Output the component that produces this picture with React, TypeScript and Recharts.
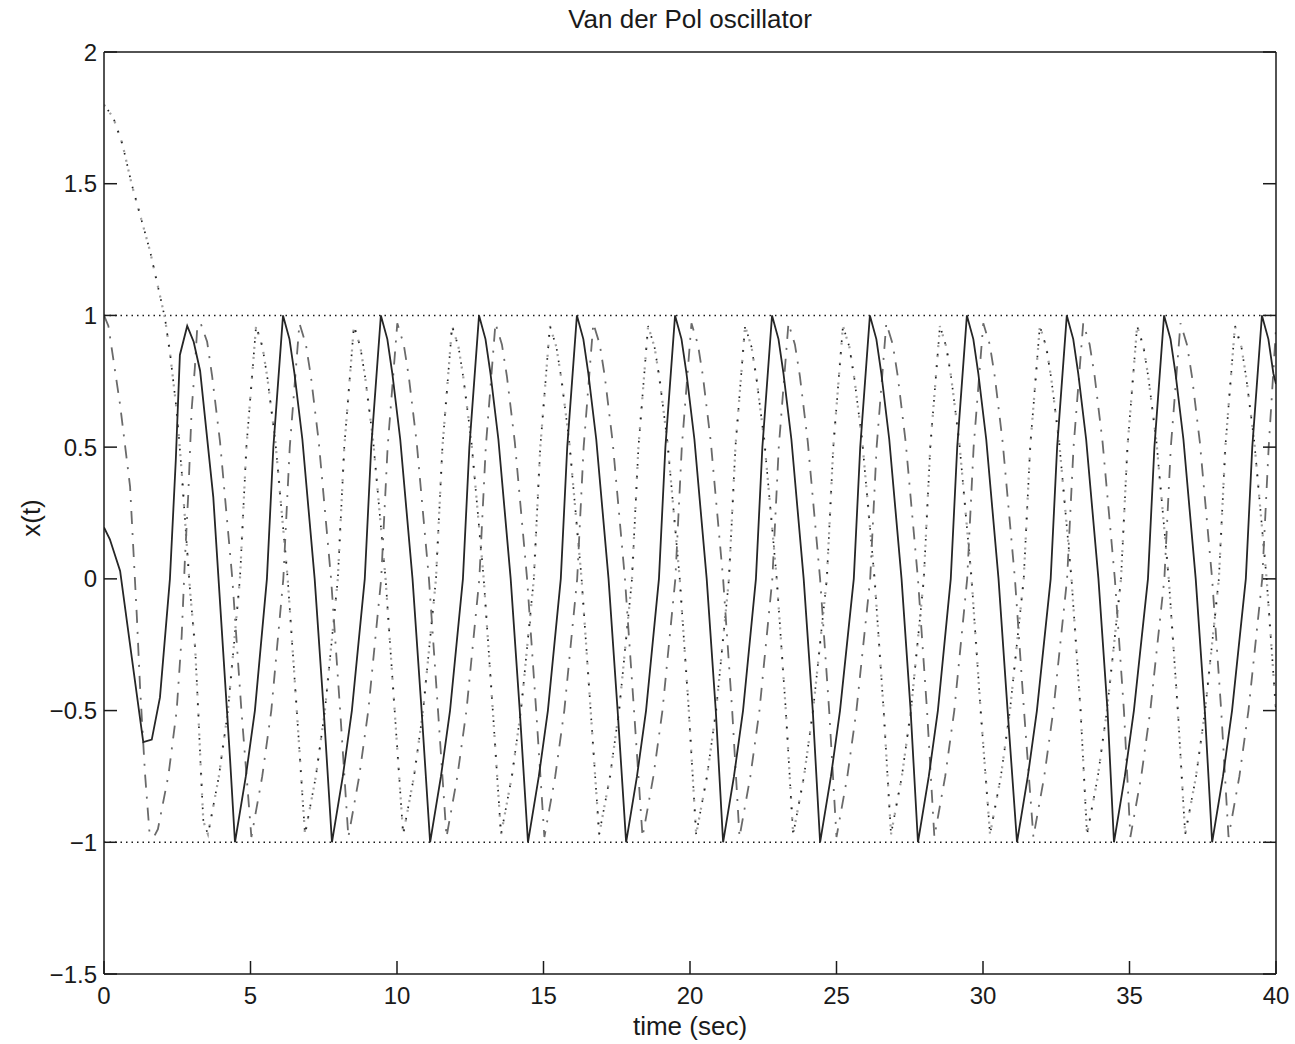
import React from "react";
import { LineChart, Line, XAxis, YAxis, ReferenceLine } from "recharts";

// time (sec) / x(t) pairs
const solidPts: [number, number][] = [
  [0, 0.195], [0.2, 0.15], [0.55, 0.03], [0.95, -0.3], [1.34, -0.62], [1.63, -0.61], [1.91, -0.45],
  [2.25, 0], [2.45, 0.45], [2.59, 0.85], [2.84, 0.96], [3.06, 0.9], [3.28, 0.79], [3.73, 0.31],
  [4.07, -0.28], [4.3, -0.68], [4.47, -1],
  [4.84, -0.75], [5.15, -0.5], [5.56, 0], [5.78, 0.5], [6.11, 1], [6.33, 0.91], [6.5, 0.78], [6.77, 0.53], [7.19, 0], [7.5, -0.5], [7.78, -1],
  [8.15, -0.75], [8.46, -0.5], [8.9, 0], [9.12, 0.5], [9.45, 1], [9.67, 0.91], [9.84, 0.78], [10.11, 0.53], [10.53, 0], [10.84, -0.5], [11.13, -1],
  [11.5, -0.75], [11.81, -0.5], [12.25, 0], [12.47, 0.5], [12.8, 1], [13.02, 0.91], [13.19, 0.78], [13.46, 0.53], [13.88, 0], [14.19, -0.5], [14.47, -1],
  [14.84, -0.75], [15.15, -0.5], [15.59, 0], [15.81, 0.5], [16.14, 1], [16.36, 0.91], [16.53, 0.78], [16.8, 0.53], [17.22, 0], [17.53, -0.5], [17.82, -1],
  [18.19, -0.75], [18.5, -0.5], [18.94, 0], [19.16, 0.5], [19.49, 1], [19.71, 0.91], [19.88, 0.78], [20.15, 0.53], [20.57, 0], [20.88, -0.5], [21.13, -1],
  [21.5, -0.75], [21.81, -0.5], [22.25, 0], [22.47, 0.5], [22.8, 1], [23.02, 0.91], [23.19, 0.78], [23.46, 0.53], [23.88, 0], [24.19, -0.5], [24.44, -1],
  [24.81, -0.75], [25.12, -0.5], [25.59, 0], [25.81, 0.5], [26.14, 1], [26.36, 0.91], [26.53, 0.78], [26.8, 0.53], [27.22, 0], [27.53, -0.5], [27.78, -1],
  [28.15, -0.75], [28.46, -0.5], [28.9, 0], [29.12, 0.5], [29.45, 1], [29.67, 0.91], [29.84, 0.78], [30.11, 0.53], [30.53, 0], [30.84, -0.5], [31.16, -1],
  [31.53, -0.75], [31.84, -0.5], [32.31, 0], [32.53, 0.5], [32.86, 1], [33.08, 0.91], [33.25, 0.78], [33.52, 0.53], [33.94, 0], [34.25, -0.5], [34.47, -1],
  [34.84, -0.75], [35.15, -0.5], [35.63, 0], [35.85, 0.5], [36.18, 1], [36.4, 0.91], [36.57, 0.78], [36.84, 0.53], [37.26, 0], [37.57, -0.5], [37.82, -1],
  [38.19, -0.75], [38.5, -0.5], [38.97, 0], [39.19, 0.5], [39.52, 1], [39.74, 0.91], [39.91, 0.78], [40, 0.74],
];

const dashDotPts: [number, number][] = [
  [0, 1.0], [0.15, 0.96], [0.55, 0.66], [0.89, 0.35], [1.12, -0.14], [1.23, -0.41], [1.4, -0.74],
  [1.55, -0.96], [1.7, -0.98], [1.84, -0.95], [2.2, -0.745], [2.48, -0.5], [2.65, -0.22], [2.76, 0.07],
  [2.88, 0.33], [2.99, 0.64], [3.1, 0.8], [3.18, 0.95], [3.3, 0.97], [3.52, 0.9], [3.69, 0.77],
  [3.96, 0.52], [4.38, 0], [4.69, -0.5], [5.03, -0.98],
  [5.4, -0.75], [5.71, -0.5], [6.12, 0], [6.34, 0.5], [6.67, 0.97], [6.89, 0.89], [7.06, 0.77], [7.33, 0.52], [7.75, 0], [8.06, -0.5], [8.34, -0.98],
  [8.71, -0.75], [9.02, -0.5], [9.46, 0], [9.68, 0.5], [10.01, 0.97], [10.23, 0.89], [10.4, 0.77], [10.67, 0.52], [11.09, 0], [11.4, -0.5], [11.69, -0.98],
  [12.06, -0.75], [12.37, -0.5], [12.81, 0], [13.03, 0.5], [13.36, 0.97], [13.58, 0.89], [13.75, 0.77], [14.02, 0.52], [14.44, 0], [14.75, -0.5], [15.03, -0.98],
  [15.4, -0.75], [15.71, -0.5], [16.15, 0], [16.37, 0.5], [16.7, 0.97], [16.92, 0.89], [17.09, 0.77], [17.36, 0.52], [17.78, 0], [18.09, -0.5], [18.38, -0.98],
  [18.75, -0.75], [19.06, -0.5], [19.5, 0], [19.72, 0.5], [20.05, 0.97], [20.27, 0.89], [20.44, 0.77], [20.71, 0.52], [21.13, 0], [21.44, -0.5], [21.69, -0.98],
  [22.06, -0.75], [22.37, -0.5], [22.81, 0], [23.03, 0.5], [23.36, 0.97], [23.58, 0.89], [23.75, 0.77], [24.02, 0.52], [24.44, 0], [24.75, -0.5], [25.0, -0.98],
  [25.37, -0.75], [25.68, -0.5], [26.15, 0], [26.37, 0.5], [26.7, 0.97], [26.92, 0.89], [27.09, 0.77], [27.36, 0.52], [27.78, 0], [28.09, -0.5], [28.34, -0.98],
  [28.71, -0.75], [29.02, -0.5], [29.46, 0], [29.68, 0.5], [30.01, 0.97], [30.23, 0.89], [30.4, 0.77], [30.67, 0.52], [31.09, 0], [31.4, -0.5], [31.72, -0.98],
  [32.09, -0.75], [32.4, -0.5], [32.87, 0], [33.09, 0.5], [33.42, 0.97], [33.64, 0.89], [33.81, 0.77], [34.08, 0.52], [34.5, 0], [34.81, -0.5], [35.03, -0.98],
  [35.4, -0.75], [35.71, -0.5], [36.19, 0], [36.41, 0.5], [36.74, 0.97], [36.96, 0.89], [37.13, 0.77], [37.4, 0.52], [37.82, 0], [38.13, -0.5], [38.38, -0.98],
  [38.75, -0.75], [39.06, -0.5], [39.53, 0], [39.75, 0.5], [40, 0.95],
];

const dottedPts: [number, number][] = [
  [0, 1.8], [0.32, 1.75], [0.63, 1.65], [0.94, 1.5], [1.26, 1.37], [1.57, 1.245], [1.82, 1.12],
  [2.0, 1.03], [2.08, 0.99], [2.25, 0.86], [2.48, 0.64], [2.65, 0.41], [2.78, 0.2], [2.94, -0.05],
  [3.11, -0.26], [3.22, -0.51], [3.29, -0.69], [3.39, -0.92], [3.55, -0.97],
  [3.92, -0.75], [4.23, -0.5], [4.64, 0], [4.86, 0.5], [5.19, 0.96], [5.41, 0.88], [5.58, 0.76], [5.85, 0.52], [6.27, 0], [6.58, -0.5], [6.86, -0.97],
  [7.23, -0.75], [7.54, -0.5], [7.98, 0], [8.2, 0.5], [8.53, 0.96], [8.75, 0.88], [8.92, 0.76], [9.19, 0.52], [9.61, 0], [9.92, -0.5], [10.21, -0.97],
  [10.58, -0.75], [10.89, -0.5], [11.33, 0], [11.55, 0.5], [11.88, 0.96], [12.1, 0.88], [12.27, 0.76], [12.54, 0.52], [12.96, 0], [13.27, -0.5], [13.55, -0.97],
  [13.92, -0.75], [14.23, -0.5], [14.67, 0], [14.89, 0.5], [15.22, 0.96], [15.44, 0.88], [15.61, 0.76], [15.88, 0.52], [16.3, 0], [16.61, -0.5], [16.9, -0.97],
  [17.27, -0.75], [17.58, -0.5], [18.02, 0], [18.24, 0.5], [18.57, 0.96], [18.79, 0.88], [18.96, 0.76], [19.23, 0.52], [19.65, 0], [19.96, -0.5], [20.21, -0.97],
  [20.58, -0.75], [20.89, -0.5], [21.33, 0], [21.55, 0.5], [21.88, 0.96], [22.1, 0.88], [22.27, 0.76], [22.54, 0.52], [22.96, 0], [23.27, -0.5], [23.52, -0.97],
  [23.89, -0.75], [24.2, -0.5], [24.67, 0], [24.89, 0.5], [25.22, 0.96], [25.44, 0.88], [25.61, 0.76], [25.88, 0.52], [26.3, 0], [26.61, -0.5], [26.86, -0.97],
  [27.23, -0.75], [27.54, -0.5], [27.98, 0], [28.2, 0.5], [28.53, 0.96], [28.75, 0.88], [28.92, 0.76], [29.19, 0.52], [29.61, 0], [29.92, -0.5], [30.24, -0.97],
  [30.61, -0.75], [30.92, -0.5], [31.39, 0], [31.61, 0.5], [31.94, 0.96], [32.16, 0.88], [32.33, 0.76], [32.6, 0.52], [33.02, 0], [33.33, -0.5], [33.55, -0.97],
  [33.92, -0.75], [34.23, -0.5], [34.71, 0], [34.93, 0.5], [35.26, 0.96], [35.48, 0.88], [35.65, 0.76], [35.92, 0.52], [36.34, 0], [36.65, -0.5], [36.9, -0.97],
  [37.27, -0.75], [37.58, -0.5], [38.05, 0], [38.27, 0.5], [38.6, 0.96], [38.82, 0.88], [38.99, 0.76], [39.26, 0.52], [39.68, 0], [40, -0.5],
];

const bounds = [1, -1];
const xTicks = [0, 5, 10, 15, 20, 25, 30, 35, 40];
const yTicks = [-1.5, -1, -0.5, 0, 0.5, 1, 1.5, 2];

const toRows = (pts: [number, number][]) => pts.map(([t, x]) => ({ t, x }));

const FONT = "'Liberation Sans', Arial, Helvetica, sans-serif";
const INK = "#1a1a1a";
const TICK_LEN = 13;
const X_GAP = 13;
const Y_GAP = 7;

const fmt = (v: number) => String(v).replace("-", "\u2212");

const BottomTick = (props: any) => {
  const { x, y, payload } = props;
  return (
    <g>
      <line x1={x} y1={y - X_GAP} x2={x} y2={y - X_GAP - TICK_LEN} stroke={INK} strokeWidth={1.5} />
      <text x={x} y={y} dy="0.71em" textAnchor="middle" fontSize={24} fontFamily={FONT} fill={INK}>
        {fmt(payload.value)}
      </text>
    </g>
  );
};

const TopTick = (props: any) => {
  const { x, y } = props;
  return <line x1={x} y1={y} x2={x} y2={y + TICK_LEN} stroke={INK} strokeWidth={1.5} />;
};

const LeftTick = (props: any) => {
  const { x, y, payload } = props;
  return (
    <g>
      <line x1={x + Y_GAP} y1={y} x2={x + Y_GAP + TICK_LEN} y2={y} stroke={INK} strokeWidth={1.5} />
      <text x={x} y={y} dy="0.355em" textAnchor="end" fontSize={24} fontFamily={FONT} fill={INK}>
        {fmt(payload.value)}
      </text>
    </g>
  );
};

const RightTick = (props: any) => {
  const { x, y } = props;
  return <line x1={x} y1={y} x2={x - TICK_LEN} y2={y} stroke={INK} strokeWidth={1.5} />;
};

export default function App() {
  return (
    <div style={{ position: "absolute", left: 0, top: 0, width: 1295, height: 1044, background: "#fff" }}>
      <LineChart width={1295} height={1044} margin={{ top: 51, right: 18, bottom: 30, left: 24 }}>
        <XAxis
          dataKey="t"
          type="number"
          domain={[0, 40]}
          ticks={xTicks}
          allowDataOverflow
          height={40}
          tickSize={0}
          tickMargin={X_GAP}
          tickLine={false}
          axisLine={{ stroke: INK, strokeWidth: 1.5 }}
          tick={<BottomTick />}
        />
        <XAxis
          xAxisId="top"
          orientation="top"
          type="number"
          domain={[0, 40]}
          ticks={xTicks}
          allowDataOverflow
          height={1}
          tickSize={0}
          tickMargin={0}
          tickLine={false}
          axisLine={{ stroke: INK, strokeWidth: 1.5 }}
          tick={<TopTick />}
        />
        <YAxis
          type="number"
          domain={[-1.5, 2]}
          ticks={yTicks}
          allowDataOverflow
          width={80}
          tickSize={0}
          tickMargin={Y_GAP}
          tickLine={false}
          axisLine={{ stroke: INK, strokeWidth: 1.5 }}
          tick={<LeftTick />}
        />
        <YAxis
          yAxisId="right"
          orientation="right"
          type="number"
          domain={[-1.5, 2]}
          ticks={yTicks}
          allowDataOverflow
          width={1}
          tickSize={0}
          tickMargin={0}
          tickLine={false}
          axisLine={{ stroke: INK, strokeWidth: 1.5 }}
          tick={<RightTick />}
        />

        {bounds.map((b) => (
          <ReferenceLine key={b} y={b} stroke={INK} strokeWidth={1.6} strokeDasharray="1.5 4" />
        ))}

        <Line
          data={toRows(dottedPts)}
          dataKey="x"
          type="linear"
          stroke="#a0a0a0"
          strokeWidth={2.2}
          strokeDasharray="2 8"
          dot={false}
          activeDot={false}
          isAnimationActive={false}
        />
        <Line
          data={toRows(dottedPts)}
          dataKey="x"
          type="linear"
          stroke="#222"
          strokeWidth={1.7}
          strokeDasharray="1.6 10"
          strokeDashoffset={5}
          dot={false}
          activeDot={false}
          isAnimationActive={false}
        />
        <Line
          data={toRows(dashDotPts)}
          dataKey="x"
          type="linear"
          stroke="#6a6a6a"
          strokeWidth={1.8}
          strokeDasharray="13 9 2 9"
          dot={false}
          activeDot={false}
          isAnimationActive={false}
        />
        <Line
          data={toRows(solidPts)}
          dataKey="x"
          type="linear"
          stroke="#262626"
          strokeWidth={1.8}
          dot={false}
          activeDot={false}
          isAnimationActive={false}
        />
      </LineChart>

      <div
        style={{
          position: "absolute", left: 104, top: 6, width: 1172, textAlign: "center",
          fontFamily: FONT, fontSize: 26, lineHeight: "26px", color: INK,
        }}
      >
        Van der Pol oscillator
      </div>
      <div
        style={{
          position: "absolute", left: 104, top: 1013, width: 1172, textAlign: "center",
          fontFamily: FONT, fontSize: 26, lineHeight: "26px", color: INK,
        }}
      >
        time (sec)
      </div>
      <div
        style={{
          position: "absolute", left: -19, top: 505, width: 100, height: 26, textAlign: "center",
          fontFamily: FONT, fontSize: 26, lineHeight: "26px", color: INK, transform: "rotate(-90deg)",
        }}
      >
        x(t)
      </div>
    </div>
  );
}
